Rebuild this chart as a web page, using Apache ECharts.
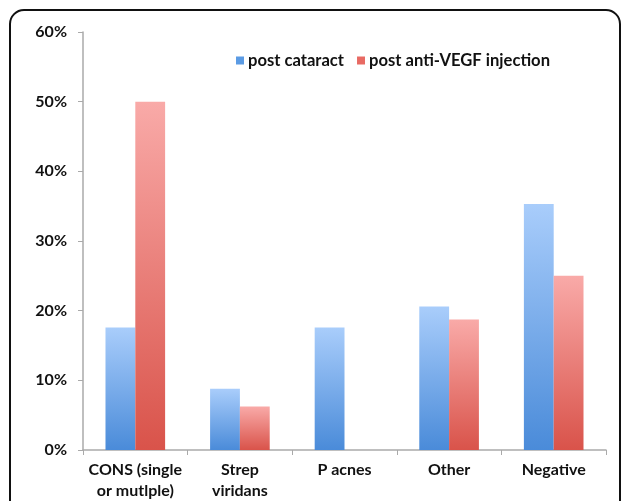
<!DOCTYPE html>
<html><head><meta charset="utf-8">
<script src="https://cdn.jsdelivr.net/npm/echarts@6/dist/echarts.min.js"></script>
<style>html,body{margin:0;padding:0;background:#fff}#c{width:630px;height:501px}</style>
</head><body><div id="c"></div>
<script>
const categories = ['CONS (single\nor mutlple)', 'Strep\nviridans', 'P acnes', 'Other', 'Negative'];
const postCataract = [17.6, 8.8, 17.6, 20.6, 35.3];
const postAntiVEGF = [50, 6.25, 0, 18.75, 25];
const yTicks = [0, 10, 20, 30, 40, 50, 60];

function grad(top, bottom) {
  return new echarts.graphic.LinearGradient(0, 0, 0, 1, [
    {offset: 0, color: top}, {offset: 1, color: bottom}
  ]);
}
const chart = echarts.init(document.getElementById('c'));
const font = 'Lato, "Open Sans", sans-serif';
chart.setOption({
  animation: false,
  graphic: [{
    type: 'rect', shape: {x: 10, y: 10, width: 610, height: 530, r: 14},
    style: {fill: 'none', stroke: '#111', lineWidth: 2}, silent: true
  }],
  legend: {
    top: 47, left: 231, itemWidth: 8, itemHeight: 8, itemGap: 13, icon: 'rect',
    textStyle: {fontFamily: font, fontWeight: 'bold', fontSize: 16.6, color: '#111', padding: [0, 0, 0, -1]},
    data: [
      {name: 'post cataract', itemStyle: {color: '#5b9be4'}},
      {name: 'post anti-VEGF injection', itemStyle: {color: '#e86a63'}}
    ]
  },
  grid: {left: 83, right: 24, top: 32, bottom: 49},
  xAxis: {
    type: 'category', data: categories,
    axisLine: {lineStyle: {color: '#aaa', width: 1.5}},
    axisTick: {show: true, length: 5, lineStyle: {color: '#aaa'}},
    axisLabel: {interval: 0, fontFamily: font, fontWeight: 'bold', fontSize: 16, color: '#111', lineHeight: 21, margin: 9}
  },
  yAxis: {
    type: 'value', min: 0, max: 60, interval: 10,
    axisLine: {show: true, lineStyle: {color: '#aaa', width: 1.5}},
    axisTick: {show: true, length: 5, lineStyle: {color: '#aaa'}},
    splitLine: {show: false},
    axisLabel: {fontFamily: font, fontWeight: 'bold', fontSize: 16, color: '#111', margin: 16,
      formatter: v => yTicks.includes(v) ? v + '%' : ''}
  },
  series: [
    {name: 'post cataract', type: 'bar', data: postCataract, barGap: '0%', barCategoryGap: '43%',
      itemStyle: {color: grad('#a9cdfb', '#4a8bd9')}},
    {name: 'post anti-VEGF injection', type: 'bar', data: postAntiVEGF,
      itemStyle: {color: grad('#f9aaa8', '#d9534a')}}
  ]
});
</script></body></html>
